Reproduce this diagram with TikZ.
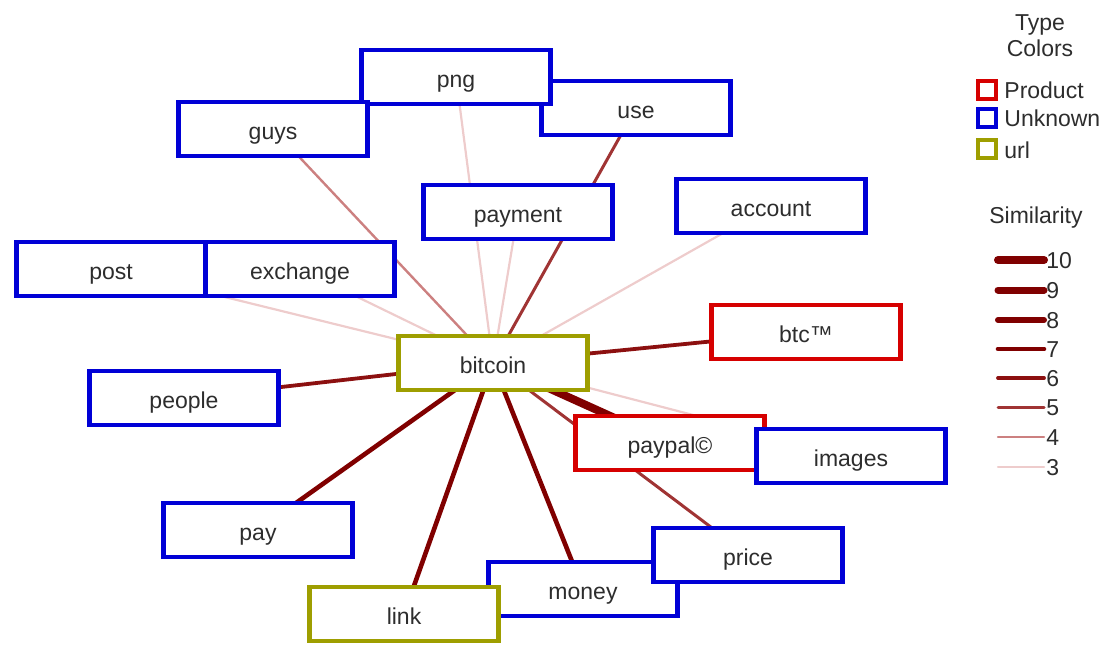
\documentclass[tikz,border=0pt]{standalone}
\usepackage{fontspec}
\setmainfont{Liberation Sans}
\usetikzlibrary{backgrounds}
\definecolor{prodred}{RGB}{214,0,0}
\definecolor{unkblue}{RGB}{0,0,214}
\definecolor{urlolive}{RGB}{158,158,0}
\definecolor{simdark}{RGB}{128,0,0}
\definecolor{simsix}{RGB}{140,16,16}
\definecolor{simfive}{RGB}{160,52,52}
\definecolor{simfour}{RGB}{204,128,128}
\definecolor{simthree}{RGB}{238,204,204}
\definecolor{labgrey}{RGB}{45,45,45}
\tikzset{
  term/.style={draw, fill=white, line width=2.4pt, minimum width=94.5pt, minimum height=27pt, inner sep=0pt, text height=10pt, text depth=0pt, text=labgrey, font=\fontsize{11.5}{13}\selectfont},
  product/.style={term, draw=prodred},
  unknown/.style={term, draw=unkblue},
  urlterm/.style={term, draw=urlolive},
  simten/.style={draw=simdark, line width=4pt},
  simnine/.style={draw=simdark, line width=3.5pt},
  simeight/.style={draw=simdark, line width=3pt},
  simseven/.style={draw=simdark, line width=2.3pt},
  simsixw/.style={draw=simsix, line width=1.9pt},
  simfivew/.style={draw=simfive, line width=1.5pt},
  simfourw/.style={draw=simfour, line width=1.2pt},
  simthreew/.style={draw=simthree, line width=1.1pt},
  legtext/.style={font=\fontsize{11.5}{13}\selectfont, text=labgrey, inner sep=0pt},
  legbox/.style={line width=2.2pt, fill=white, minimum size=9pt, inner sep=0pt}
}
\begin{document}
\begin{tikzpicture}[x=0.5pt, y=-0.5pt]
  \useasboundingbox (0,0) rectangle (1107,644);

  % terms
  \node[unknown] (use) at (636,108) {use};
  \node[unknown] (png) at (456,77) {png};
  \node[unknown] (guys) at (273,129) {guys};
  \node[unknown] (payment) at (518,212) {payment};
  \node[unknown] (account) at (771,206) {account};
  \node[unknown] (post) at (111,269) {post};
  \node[unknown] (exchange) at (300,269) {exchange};
  \node[product] (btc) at (806,332) {btc™};
  \node[urlterm] (bitcoin) at (493,363) {bitcoin};
  \node[unknown] (people) at (184,398) {people};
  \node[product] (paypal) at (670,443) {paypal©};
  \node[unknown] (images) at (851,456) {images};
  \node[unknown] (pay) at (258,530) {pay};
  \node[unknown] (money) at (583,589) {money};
  \node[urlterm] (link) at (404,614) {link};
  \node[unknown] (price) at (748,555) {price};

  % similarity edges
  \begin{pgfonlayer}{background}
    \draw[simthreew] (bitcoin.center)--(post.center);
    \draw[simthreew] (bitcoin.center)--(exchange.center);
    \draw[simfourw] (bitcoin.center)--(guys.center);
    \draw[simthreew] (bitcoin.center)--(png.center);
    \draw[simthreew] (bitcoin.center)--(payment.center);
    \draw[simfivew] (bitcoin.center)--(use.center);
    \draw[simthreew] (bitcoin.center)--(account.center);
    \draw[simsixw] (bitcoin.center)--(btc.center);
    \draw[simsixw] (bitcoin.center)--(people.center);
    \draw[simthreew] (bitcoin.center)--(images.center);
    \draw[simfivew] (bitcoin.center)--(price.center);
    \draw[simten] (bitcoin.center)--(paypal.center);
    \draw[simseven] (bitcoin.center)--(pay.center);
    \draw[simseven] (bitcoin.center)--(link.center);
    \draw[simseven] (bitcoin.center)--(money.center);
  \end{pgfonlayer}

  % legend: type colors
  \node[legtext] (typeA) at (1040,25) {Type};
  \node[legtext] (typeB) at (1040,48) {Colors};
  \node[legbox, draw=prodred] (keyprod) at (987,90) {};
  \node[legtext, anchor=west] at (1004,90) {Product};
  \node[legbox, draw=unkblue] (keyunk) at (987,118) {};
  \node[legtext, anchor=west] at (1004,118) {Unknown};
  \node[legbox, draw=urlolive] (keyurl) at (987,149) {};
  \node[legtext, anchor=west] at (1004,150) {url};

  % legend: similarity
  \node[legtext] (simtitle) at (1036,218) {Similarity};
  \coordinate (sa10) at (998,260); \coordinate (sb10) at (1044,260);
  \coordinate (sa9) at (998,290); \coordinate (sb9) at (1044,290);
  \coordinate (sa8) at (998,320); \coordinate (sb8) at (1044,320);
  \coordinate (sa7) at (998,349); \coordinate (sb7) at (1044,349);
  \coordinate (sa6) at (998,378); \coordinate (sb6) at (1044,378);
  \coordinate (sa5) at (998,407); \coordinate (sb5) at (1044,407);
  \coordinate (sa4) at (998,437); \coordinate (sb4) at (1044,437);
  \coordinate (sa3) at (998,467); \coordinate (sb3) at (1044,467);
  \draw[simten, line cap=round] (sa10)--(sb10);
  \draw[simnine, line cap=round] (sa9)--(sb9);
  \draw[simeight, line cap=round] (sa8)--(sb8);
  \draw[simseven, line cap=round] (sa7)--(sb7);
  \draw[simsixw, line cap=round] (sa6)--(sb6);
  \draw[simfivew, line cap=round] (sa5)--(sb5);
  \draw[simfourw, line cap=round] (sa4)--(sb4);
  \draw[simthreew, line cap=round] (sa3)--(sb3);
  \foreach \v/\yy in {10/261,9/291,8/321,7/350,6/379,5/408,4/438,3/468}
    \node[legtext, anchor=west] at (1046,\yy) {\v};
\end{tikzpicture}
\end{document}
